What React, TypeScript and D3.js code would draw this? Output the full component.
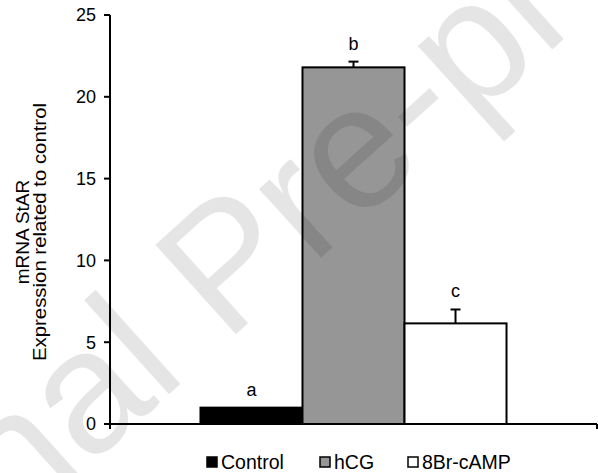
import React from "react";
import * as d3 from "d3";

const categories = ["Control", "hCG", "8Br-cAMP"];
const values = [1.0, 21.8, 6.15];
const errors = [0, 0.35, 0.85];
const letters = ["a", "b", "c"];
const fills = ["#000000", "#969696", "#ffffff"];
const yTicks = [0, 5, 10, 15, 20, 25];

const W = 598;
const H = 473;
const left = 110;
const right = 597;
const top = 15;
const bottom = 424;
const font = "'Liberation Sans', Arial, sans-serif";

export default function App() {
  const y = d3.scaleLinear().domain([0, 25]).range([bottom, top]);
  const x = d3
    .scaleBand<string>()
    .domain(categories)
    .range([left, right])
    .paddingInner(0)
    .paddingOuter(0.887);
  const bw = x.bandwidth();

  const legendX = [207, 320, 408];

  return (
    <div style={{ position: "fixed", left: 0, top: 0 }}>
      <svg width={W} height={H} style={{ display: "block", background: "#fff" }}>
        {/* bars */}
        {categories.map((c, i) => (
          <rect
            key={c}
            x={x(c)!}
            y={y(values[i])}
            width={bw}
            height={y(0) - y(values[i])}
            fill={fills[i]}
            stroke="#000"
            strokeWidth={2}
          />
        ))}
        {/* error bars */}
        {categories.map((c, i) => {
          if (errors[i] <= 0) return null;
          const cx = x(c)! + bw / 2;
          const y1 = y(values[i]);
          const y2 = y(values[i] + errors[i]);
          return (
            <g key={"e" + c} stroke="#000" strokeWidth={2}>
              <line x1={cx} x2={cx} y1={y1} y2={y2} />
              <line x1={cx - 5} x2={cx + 5} y1={y2} y2={y2} />
            </g>
          );
        })}
        {/* letters */}
        {categories.map((c, i) => (
          <text
            key={"l" + c}
            x={x(c)! + bw / 2}
            y={y(values[i] + errors[i]) - 12}
            textAnchor="middle"
            fontFamily={font}
            fontSize={18}
            fill="#000"
          >
            {letters[i]}
          </text>
        ))}
        {/* y axis */}
        <line x1={left} x2={left} y1={top} y2={bottom + 5} stroke="#000" strokeWidth={2} />
        {yTicks.map((t) => (
          <g key={"t" + t}>
            <line x1={left - 6} x2={left} y1={y(t)} y2={y(t)} stroke="#000" strokeWidth={2} />
            <text
              x={left - 14}
              y={y(t)}
              dy="0.36em"
              textAnchor="end"
              fontFamily={font}
              fontSize={18}
              fill="#000"
            >
              {t}
            </text>
          </g>
        ))}
        {/* x axis */}
        <line x1={left} x2={right} y1={bottom} y2={bottom} stroke="#000" strokeWidth={2} />
        <line x1={right} x2={right} y1={bottom} y2={bottom + 5} stroke="#000" strokeWidth={2} />
        {/* y title */}
        <g transform={`translate(29, 232) rotate(-90)`}>
          <text textAnchor="middle" fontFamily={font} fontSize={19} fill="#000">
            mRNA StAR
          </text>
          <text y={17} textAnchor="middle" fontFamily={font} fontSize={19} fill="#000" textLength={258} lengthAdjust="spacingAndGlyphs">
            Expression related to control
          </text>
        </g>
        {/* legend */}
        {categories.map((c, i) => (
          <g key={"lg" + c}>
            <rect x={legendX[i]} y={457} width={10} height={10} fill={fills[i]} stroke="#000" strokeWidth={1.5} />
            <text x={legendX[i] + 14} y={469} fontFamily={font} fontSize={19.5} fill="#000">
              {c}
            </text>
          </g>
        ))}
        {/* watermark */}
        <text
          transform={`translate(265, 308) rotate(-42)`}
          textAnchor="middle"
          fontFamily={font}
          fontSize={175}
          fill="rgba(0,0,0,0.1)"
        >
          Journal Pre-proof
        </text>
      </svg>
    </div>
  );
}
